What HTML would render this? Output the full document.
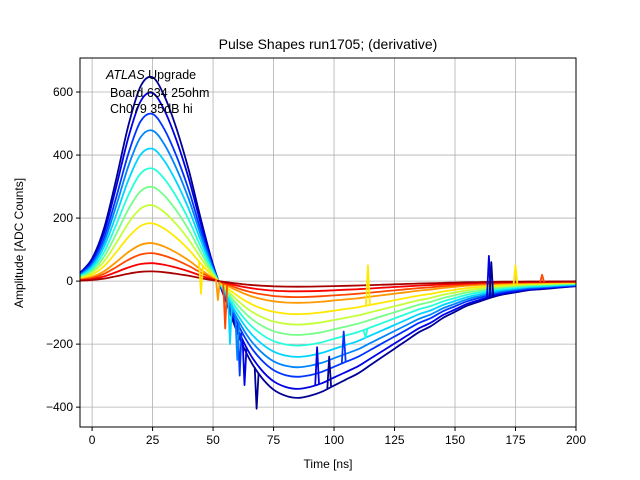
<!DOCTYPE html>
<html><head><meta charset="utf-8">
<style>
body{margin:0;background:#fff;}
svg{display:block;font-family:"Liberation Sans","DejaVu Sans",sans-serif;}
</style></head>
<body>
<svg id="chart" width="640" height="480" viewBox="0 0 640 480">
<rect width="640" height="480" fill="#fff"/>
<g id="grid"></g>
<g id="series"></g>
<rect x="80" y="58" width="496" height="369" fill="none" stroke="#000" stroke-width="1"/>
<g id="ticks"></g>
<text x="328" y="49" text-anchor="middle" font-size="14">Pulse Shapes run1705; (derivative)</text>
<text x="328" y="468" text-anchor="middle" font-size="12">Time [ns]</text>
<text transform="translate(23,243) rotate(-90)" text-anchor="middle" font-size="12">Amplitude [ADC Counts]</text>
<g font-size="12.5">
<text x="106" y="79"><tspan font-style="italic">ATLAS</tspan> Upgrade</text>
<text x="110" y="97">Board 634 25ohm</text>
<text x="110" y="113">Ch079 35dB hi</text>
</g>
</svg>
<script>
const times=[-5,0,5,10,15,20,25,30,35,40,45,50,55,60,65,70,75,80,85,90,95,100,105,110,115,120,125,130,135,140,145,150,155,160,165,170,175,180,185,190,195,200];
const shape=[0.04,0.11,0.26,0.5,0.76,0.95,0.995,0.9,0.74,0.54,0.3,0.08,-0.09,-0.25,-0.38,-0.47,-0.53,-0.56,-0.57,-0.56,-0.54,-0.51,-0.48,-0.45,-0.41,-0.37,-0.33,-0.29,-0.25,-0.22,-0.18,-0.15,-0.12,-0.1,-0.08,-0.065,-0.055,-0.045,-0.04,-0.035,-0.03,-0.025];
const amplitudes=[650,600,533,480,422,359,300,242,184,121,89,57,31];
// spikes: [series index, time (ns), value]
const spikeSeries=[0,1,2,3,4,0,1,2,5,8,8,10,9,1,0,8,10];
const spikeTimes=[68,63,61,60,57,98,93,104,113,114,45,55,52,164,165,175,186];
const spikeValues=[-405,-330,-300,-250,-200,-240,-210,-160,-180,50,-40,-150,-60,80,60,50,20];
const xTicks=[0,25,50,75,100,125,150,175,200];
const yTicks=[-400,-200,0,200,400,600];
const NS="http://www.w3.org/2000/svg";
const X0=80,X1=576,Y0=58,Y1=427,xmin=-5,xmax=200,ymin=-463,ymax=708;
function xs(v){return X0+(v-xmin)/(xmax-xmin)*(X1-X0);}
function ys(v){return Y1-(v-ymin)/(ymax-ymin)*(Y1-Y0);}
function jet(t){
  const c=x=>Math.max(0,Math.min(1,x));
  const r=c(1.5-Math.abs(4*t-3)),g=c(1.5-Math.abs(4*t-2)),b=c(1.5-Math.abs(4*t-1));
  return `rgb(${Math.round(r*255)},${Math.round(g*255)},${Math.round(b*255)})`;
}
function baseAt(a,t){
  for(let j=0;j<times.length-1;j++){if(t>=times[j]&&t<=times[j+1]){const f=(t-times[j])/(times[j+1]-times[j]);return a*(shape[j]+f*(shape[j+1]-shape[j]));}}
  return 0;
}
const grid=document.getElementById('grid'),ticks=document.getElementById('ticks'),ser=document.getElementById('series');
xTicks.forEach(v=>{
  const l=document.createElementNS(NS,'line');
  l.setAttribute('x1',xs(v));l.setAttribute('x2',xs(v));l.setAttribute('y1',Y0);l.setAttribute('y2',Y1);
  l.setAttribute('stroke','#b0b0b0');l.setAttribute('stroke-width','0.8');
  
  
  grid.appendChild(l);
  const tk=document.createElementNS(NS,'line');
  tk.setAttribute('x1',xs(v));tk.setAttribute('x2',xs(v));tk.setAttribute('y1',Y1);tk.setAttribute('y2',Y1+4);tk.setAttribute('stroke','#000');
  
  
  ticks.appendChild(tk);
  const t=document.createElementNS(NS,'text');
  t.setAttribute('x',xs(v));t.setAttribute('y',Y1+17);t.setAttribute('text-anchor','middle');t.setAttribute('font-size','12');
  t.textContent=v;
  
  
  ticks.appendChild(t);
});
yTicks.forEach(v=>{
  const l=document.createElementNS(NS,'line');
  l.setAttribute('x1',X0);l.setAttribute('x2',X1);l.setAttribute('y1',ys(v));l.setAttribute('y2',ys(v));
  l.setAttribute('stroke','#b0b0b0');l.setAttribute('stroke-width','0.8');
  
  
  grid.appendChild(l);
  const tk=document.createElementNS(NS,'line');
  tk.setAttribute('x1',X0-4);tk.setAttribute('x2',X0);tk.setAttribute('y1',ys(v));tk.setAttribute('y2',ys(v));tk.setAttribute('stroke','#000');
  
  
  ticks.appendChild(tk);
  const t=document.createElementNS(NS,'text');
  t.setAttribute('x',X0-7);t.setAttribute('y',ys(v)+4);t.setAttribute('text-anchor','end');t.setAttribute('font-size','12');
  t.textContent=v<0?'\u2212'+(-v):v;
  
  
  ticks.appendChild(t);
});
function colorFor(i){return jet(0.02+0.94*i/(amplitudes.length-1));}
amplitudes.forEach((a,i)=>{
  const pts=times.map((tm,j)=>[xs(tm),ys(a*shape[j])]);
  let d='M'+pts[0][0].toFixed(1)+','+pts[0][1].toFixed(1);
  for(let j=0;j<pts.length-1;j++){
    const p0=pts[Math.max(0,j-1)],p1=pts[j],p2=pts[j+1],p3=pts[Math.min(pts.length-1,j+2)];
    const c1=[p1[0]+(p2[0]-p0[0])/6,p1[1]+(p2[1]-p0[1])/6];
    const c2=[p2[0]-(p3[0]-p1[0])/6,p2[1]-(p3[1]-p1[1])/6];
    d+=` C${c1[0].toFixed(1)},${c1[1].toFixed(1)} ${c2[0].toFixed(1)},${c2[1].toFixed(1)} ${p2[0].toFixed(1)},${p2[1].toFixed(1)}`;
  }
  const p=document.createElementNS(NS,'path');
  p.setAttribute('d',d);p.setAttribute('fill','none');p.setAttribute('stroke',colorFor(i));p.setAttribute('stroke-width','1.8');
  p.setAttribute('stroke-linejoin','round');
  
  
  ser.appendChild(p);
});
spikeSeries.forEach((si,k)=>{
  const a=amplitudes[si],t=spikeTimes[k];
  const d=`M${xs(t-0.8).toFixed(1)},${ys(baseAt(a,t-0.8)).toFixed(1)} L${xs(t).toFixed(1)},${ys(spikeValues[k]).toFixed(1)} L${xs(t+0.8).toFixed(1)},${ys(baseAt(a,t+0.8)).toFixed(1)}`;
  const p=document.createElementNS(NS,'path');
  p.setAttribute('d',d);p.setAttribute('fill','none');p.setAttribute('stroke',colorFor(si));p.setAttribute('stroke-width','1.8');
  p.setAttribute('stroke-linejoin','round');
  
  
  ser.appendChild(p);
});
</script>
</body></html>
